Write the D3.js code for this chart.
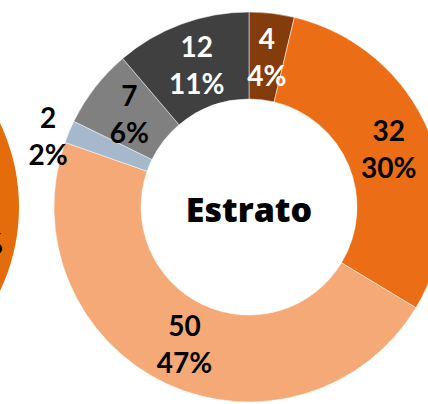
<!DOCTYPE html>
<html>
<head>
<meta charset="utf-8">
<script src="https://cdn.jsdelivr.net/npm/d3@7"></script>
<style>
  body { margin: 0; background: #fff; }
  text { font-family: Lato, "Open Sans", sans-serif; font-weight: bold; }
</style>
</head>
<body>
<svg width="428" height="404"></svg>
<script>
// slices clockwise from 12 o'clock
var categorias = ["A", "B", "C", "D", "E", "F"];
var valores = [4, 32, 50, 2, 7, 12];
var porcentajes = ["4%", "30%", "47%", "2%", "6%", "11%"];
var colores = ["#843c0c", "#eb6e17", "#f4a977", "#a6b9cc", "#808080", "#404040"];
var colorTexto = ["#fff", "#000", "#000", "#000", "#000", "#fff"];
var afuera = [false, false, false, true, false, false];
var titulo = "Estrato";

// neighbouring chart, only its edge shows
var vecinoValores = [1];
var vecinoColores = ["#e46c0a"];
var vecinoEtiqueta = "%";

var svg = d3.select("svg"),
    cx = 249, cy = 207,
    rOut = 195, rIn = 108;

var pie = d3.pie().sort(null).value(function(d) { return d; });

var arc = d3.arc().innerRadius(rIn).outerRadius(rOut);
var arcLabel = d3.arc().innerRadius(rIn).outerRadius(rOut);

// left neighbour donut
var gv = svg.append("g").attr("transform", "translate(" + (cx - 425) + "," + cy + ")");
gv.selectAll("path")
    .data(pie(vecinoValores))
    .enter().append("path")
    .attr("d", arc)
    .attr("fill", function(d, i) { return vecinoColores[i]; });
svg.append("text")
    .attr("x", 3)
    .attr("y", 254)
    .attr("text-anchor", "end")
    .style("font-size", "28px")
    .text(vecinoEtiqueta);

var g = svg.append("g").attr("transform", "translate(" + cx + "," + cy + ")");

var arcos = pie(valores);

g.selectAll("path")
    .data(arcos)
    .enter().append("path")
    .attr("d", arc)
    .attr("fill", function(d, i) { return colores[i]; })
    .attr("stroke", "#fff")
    .attr("stroke-width", 0.5);

var lab = g.selectAll(".lab")
    .data(arcos)
    .enter().append("g")
    .attr("class", "lab")
    .attr("transform", function(d, i) {
        var p;
        if (afuera[i]) {
            var r = 213;
            p = [r * Math.sin(d.startAngle), -r * Math.cos(d.startAngle)];
        } else {
            p = arcLabel.centroid(d);
        }
        return "translate(" + p[0] + "," + p[1] + ")";
    });

lab.append("text")
    .attr("text-anchor", "middle")
    .attr("y", -8)
    .attr("fill", function(d, i) { return colorTexto[i]; })
    .style("font-size", "28px")
    .text(function(d, i) { return valores[i]; });

lab.append("text")
    .attr("text-anchor", "middle")
    .attr("y", 29)
    .attr("fill", function(d, i) { return colorTexto[i]; })
    .style("font-size", "28px")
    .text(function(d, i) { return porcentajes[i]; });

g.append("text")
    .attr("text-anchor", "middle")
    .attr("y", 15)
    .style("font-family", "'Open Sans', sans-serif")
    .style("font-weight", 800)
    .style("font-size", "34px")
    .text(titulo);
</script>
</body>
</html>
